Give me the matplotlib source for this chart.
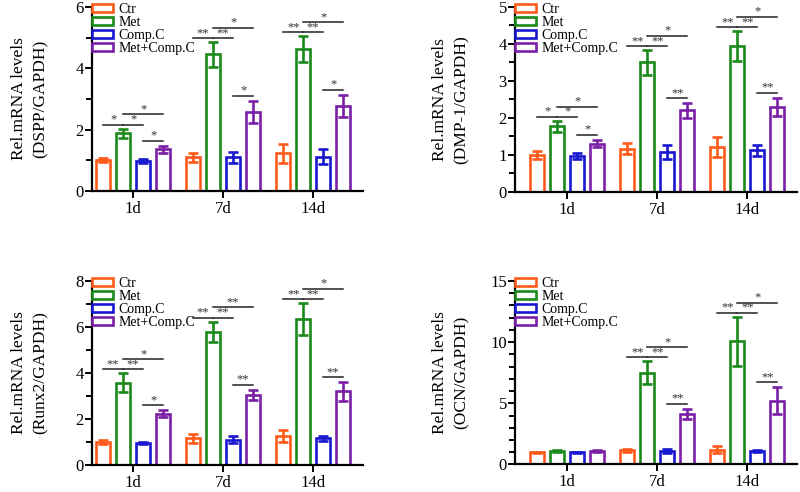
import numpy as np
import matplotlib
matplotlib.use('Agg')
from matplotlib import pyplot as plt
from matplotlib.ticker import MultipleLocator

plt.rcParams['font.family'] = ['Liberation Serif', 'DejaVu Serif']

days = ['1d', '7d', '14d']
groups = ['Ctr', 'Met', 'Comp.C', 'Met+Comp.C']
colors = ['#ff5a1a', '#1b8a1b', '#1818d0', '#7a1fa6']

# mean[group][day], err[group][day]
dspp_mean = [[1.00, 1.10, 1.22], [1.88, 4.45, 4.62], [0.97, 1.10, 1.12], [1.35, 2.57, 2.77]]
dspp_err = [[0.07, 0.15, 0.30], [0.15, 0.40, 0.42], [0.06, 0.18, 0.25], [0.12, 0.37, 0.36]]
dspp_sig = [['*', '*', '*', '*'], ['**', '**', '*', '*'], ['**', '**', '*', '*']]

dmp1_mean = [[1.00, 1.17, 1.22], [1.77, 3.50, 3.94], [0.98, 1.08, 1.12], [1.30, 2.20, 2.30]]
dmp1_err = [[0.10, 0.15, 0.27], [0.15, 0.33, 0.40], [0.08, 0.20, 0.15], [0.10, 0.20, 0.25]]
dmp1_sig = [['*', '*', '*', '*'], ['**', '**', '*', '**'], ['**', '**', '*', '**']]

runx2_mean = [[1.00, 1.15, 1.25], [3.58, 5.78, 6.33], [0.95, 1.10, 1.15], [2.22, 3.05, 3.20]]
runx2_err = [[0.07, 0.20, 0.25], [0.40, 0.45, 0.70], [0.06, 0.15, 0.12], [0.15, 0.22, 0.40]]
runx2_sig = [['**', '**', '*', '*'], ['**', '**', '**', '**'], ['**', '**', '*', '**']]

ocn_mean = [[1.00, 1.15, 1.20], [1.10, 7.50, 10.05], [0.98, 1.10, 1.10], [1.10, 4.12, 5.22]]
ocn_err = [[0.05, 0.10, 0.30], [0.07, 0.92, 2.00], [0.05, 0.20, 0.10], [0.07, 0.42, 1.08]]
ocn_sig = [[], ['**', '**', '*', '**'], ['**', '**', '*', '**']]

panels = [
    ('(DSPP/GAPDH)', dspp_mean, dspp_err, dspp_sig, 6, 2, 1,
     [0.115, 0.612, 0.339, 0.374], -0.456),
    ('(DMP-1/GAPDH)', dmp1_mean, dmp1_err, dmp1_sig, 5, 1, 0.5,
     [0.644, 0.610, 0.3525, 0.376], -0.578),
    ('(Runx2/GAPDH)', runx2_mean, runx2_err, runx2_sig, 8, 2, 1,
     [0.115, 0.055, 0.339, 0.374], -0.456),
    ('(OCN/GAPDH)', ocn_mean, ocn_err, ocn_sig, 15, 5, 1,
     [0.644, 0.056, 0.3525, 0.373], -0.578),
]

offsets = [-0.333, -0.111, 0.111, 0.333]
width = 0.155

fig = plt.figure(figsize=(8, 4.92), dpi=100)

for name, mean, err, sig, ymax, major, minor, rect, xleft in panels:
    ax = fig.add_axes(rect)
    x = np.arange(len(days))
    for g in range(4):
        ax.bar(x + offsets[g], mean[g], width, facecolor='white',
               edgecolor=colors[g], linewidth=1.9, label=groups[g], zorder=2)
        ax.errorbar(x + offsets[g], mean[g], yerr=err[g], fmt='none',
                    ecolor=colors[g], elinewidth=1.9, capsize=3.5,
                    capthick=1.9, zorder=3)

    # significance bars
    for d in range(len(days)):
        if not sig[d]:
            continue
        met_top = mean[1][d] + err[1][d]
        combo_top = mean[3][d] + err[3][d]
        h1 = met_top + 0.022 * ymax
        h2 = h1 + 0.055 * ymax
        h3 = combo_top + 0.027 * ymax
        pairs = [(0, 1, h1), (1, 2, h1), (1, 3, h2), (2, 3, h3)]
        for (i, j, h), lab in zip(pairs, sig[d]):
            x0 = d + offsets[i]
            x1 = d + offsets[j]
            ax.plot([x0, x1], [h, h], color='#222222', lw=1.1, zorder=4)
            ax.text((x0 + x1) / 2, h - 0.004 * ymax, lab, ha='center',
                    va='bottom', fontsize=9, color='#333333')

    ax.set_xlim(xleft, 2.556)
    ax.set_ylim(0, ymax)
    ax.set_xticks(x)
    ax.set_xticklabels(days, fontsize=12)
    ax.yaxis.set_major_locator(MultipleLocator(major))
    ax.yaxis.set_minor_locator(MultipleLocator(minor))
    ax.tick_params(axis='y', labelsize=12, width=1.4, length=5, pad=1)
    ax.tick_params(axis='y', which='minor', width=1.4, length=4)
    ax.tick_params(axis='x', width=1.4, length=5, pad=2)
    for s in ['top', 'right']:
        ax.spines[s].set_visible(False)
    for s in ['left', 'bottom']:
        ax.spines[s].set_linewidth(1.6)

    ax.set_ylabel('Rel.mRNA levels\n' + name, fontsize=12.5, linespacing=1.5)
    ax.yaxis.set_label_coords(-0.16, 0.5)

    ax.legend(loc='upper left', bbox_to_anchor=(0.0, 1.02), frameon=False,
              fontsize=10, handlelength=1.5, handleheight=0.5,
              handletextpad=0.4, labelspacing=0.0, borderpad=0,
              borderaxespad=0)

fig.savefig('out.png', dpi=100)
